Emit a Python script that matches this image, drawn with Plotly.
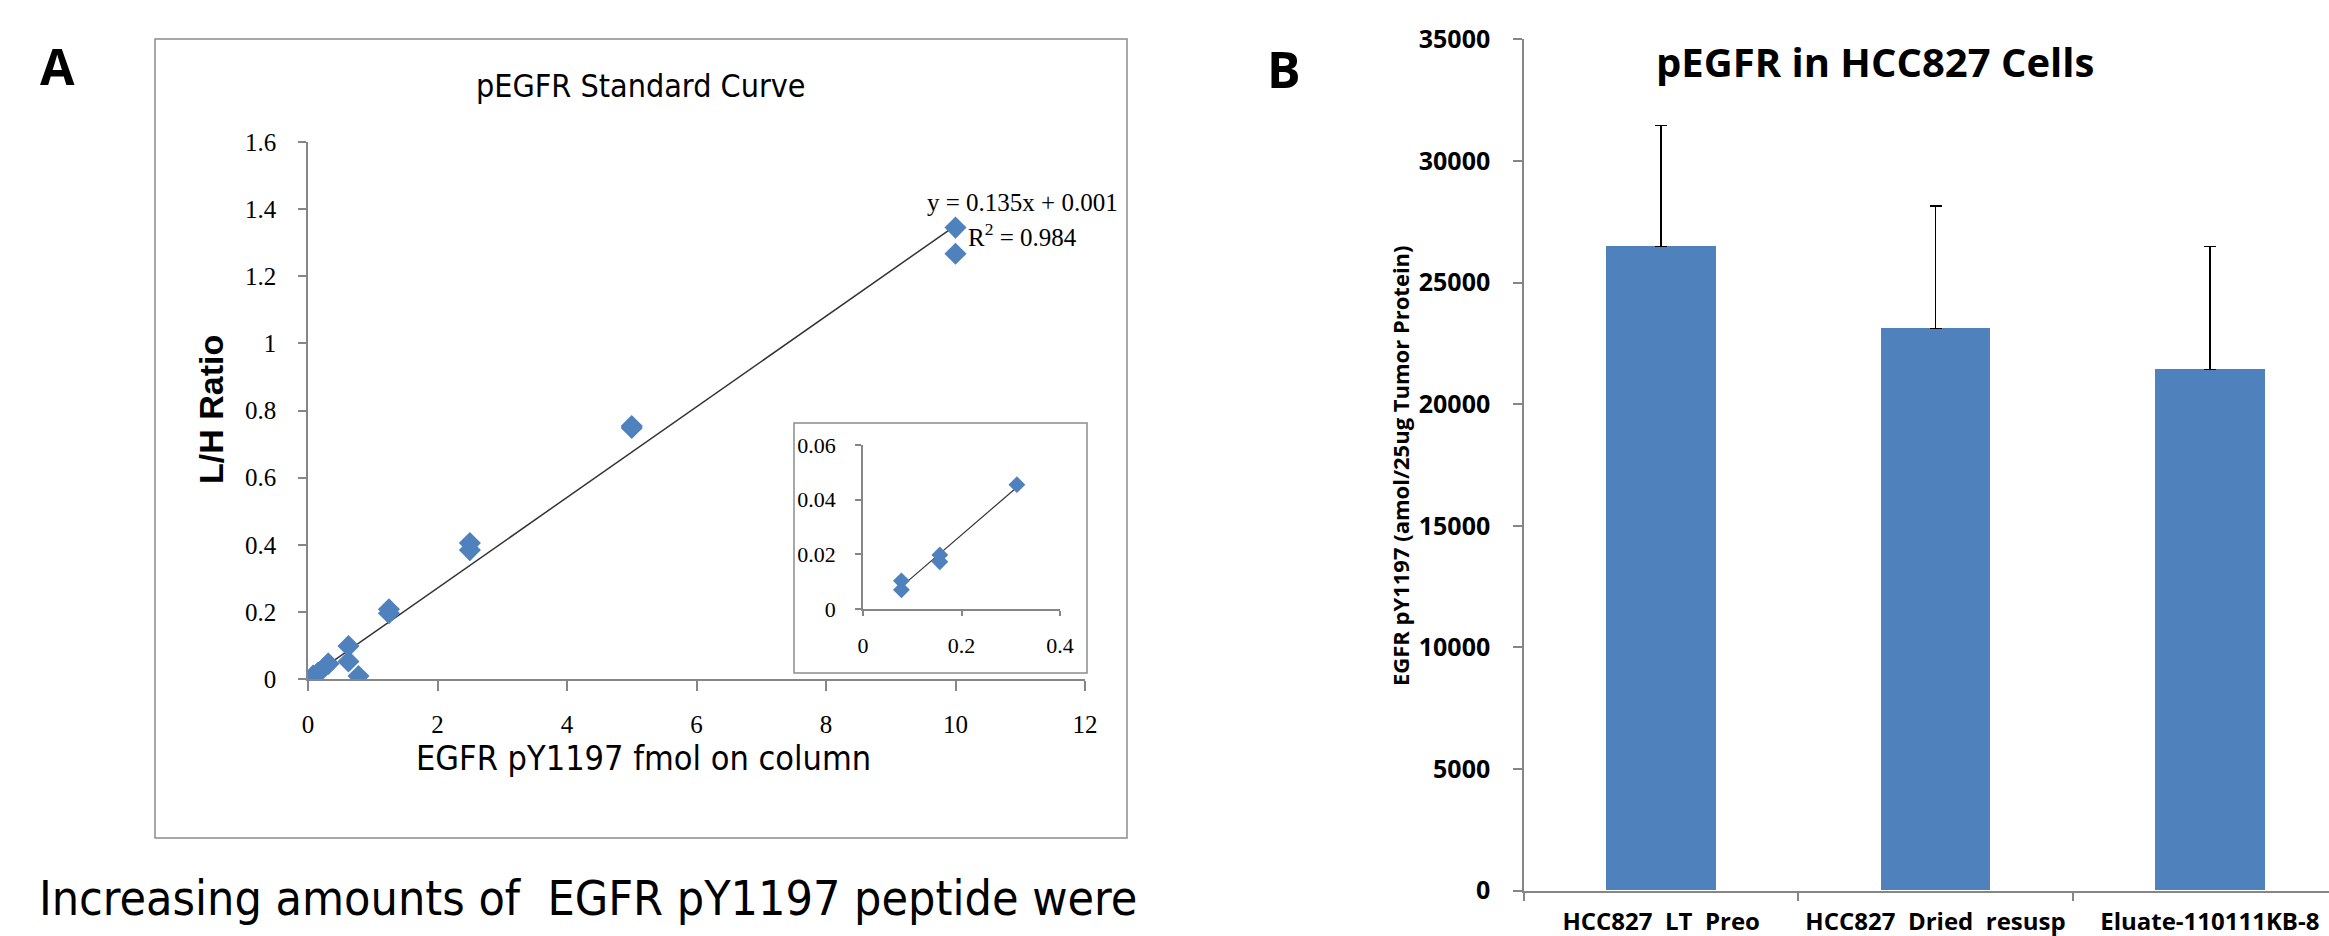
import plotly.graph_objects as go

W, H = 2329, 936

# ---------------- data ----------------
# Panel A: standard curve (fmol on column vs L/H ratio)
std_x = [0.078, 0.078, 0.156, 0.156, 0.3125, 0.3125, 0.625, 0.625, 0.78,
         1.25, 1.25, 2.5, 2.5, 5, 5, 10, 10]
std_y = [0.007, 0.010, 0.017, 0.019, 0.045, 0.046, 0.098, 0.052, 0.009,
         0.208, 0.196, 0.405, 0.384, 0.754, 0.748, 1.345, 1.267]
fit_slope = 0.135
fit_intercept = 0.001

# inset (low range)
inset_x = [0.078, 0.078, 0.156, 0.156, 0.3125]
inset_y = [0.0103, 0.007, 0.0198, 0.0173, 0.0455]
inset_slope = 0.155
inset_intercept = -0.0039

a_xticks = [0, 2, 4, 6, 8, 10, 12]
a_yticks = [0, 0.2, 0.4, 0.6, 0.8, 1.0, 1.2, 1.4, 1.6]
a_yticktext = ["0", "0.2", "0.4", "0.6", "0.8", "1", "1.2", "1.4", "1.6"]
in_xticks = [0, 0.2, 0.4]
in_yticks = [0, 0.02, 0.04, 0.06]
in_yticktext = ["0", "0.02", "0.04", "0.06"]

# Panel B: bar chart
categories = ["HCC827\u00a0\u00a0LT\u00a0\u00a0Preo",
              "HCC827\u00a0\u00a0Dried\u00a0\u00a0resusp",
              "Eluate-110111KB-8"]
values = [26480, 23120, 21420]
errors = [4980, 5030, 5060]
b_yticks = [0, 5000, 10000, 15000, 20000, 25000, 30000, 35000]
b_yticktext = ["<b>%d</b>" % v for v in b_yticks]
b_xticktext = ["<b>%s</b>" % c for c in categories]

# ---------------- style helpers ----------------
BLUE = "#4F81BD"
AXIS = "#868686"
NARROW = "Liberation Sans Narrow, Arial Narrow, DejaVu Sans Condensed, sans-serif"
SERIF = "Liberation Serif, Times New Roman, serif"
SANSB = "Open Sans, Liberation Sans, Arial, sans-serif"


def px(x):
    return x / W


def py(y):
    return 1 - y / H


fig = go.Figure()

# main standard curve
fit_xs = [min(std_x), max(std_x)]
fig.add_trace(go.Scatter(x=fit_xs, y=[fit_slope * v + fit_intercept for v in fit_xs],
                         mode="lines", line=dict(color="#333333", width=1.5),
                         xaxis="x", yaxis="y", showlegend=False, hoverinfo="skip"))
fig.add_trace(go.Scatter(x=std_x, y=std_y, mode="markers",
                         marker=dict(symbol="diamond", size=17, color=BLUE),
                         xaxis="x", yaxis="y", showlegend=False))

# inset
in_fit_xs = [min(inset_x), max(inset_x)]
fig.add_trace(go.Scatter(x=in_fit_xs, y=[inset_slope * v + inset_intercept for v in in_fit_xs],
                         mode="lines", line=dict(color="#333333", width=1.2),
                         xaxis="x2", yaxis="y2", showlegend=False, hoverinfo="skip"))
fig.add_trace(go.Scatter(x=inset_x, y=inset_y, mode="markers",
                         marker=dict(symbol="diamond", size=13, color=BLUE),
                         xaxis="x2", yaxis="y2", showlegend=False))

# bars
fig.add_trace(go.Bar(x=categories, y=values, width=0.4, marker=dict(color=BLUE, line=dict(width=0)),
                     error_y=dict(type="data", symmetric=False, array=errors,
                                  arrayminus=[0] * len(errors), color="black",
                                  thickness=1.5, width=6),
                     xaxis="x3", yaxis="y3", showlegend=False))

axis_common = dict(showline=True, linecolor=AXIS, linewidth=1.5, ticks="outside",
                   tickcolor=AXIS, tickwidth=1.5, showgrid=False, zeroline=False,
                   automargin=False)

fig.update_layout(
    width=W, height=H, autosize=False,
    margin=dict(l=0, r=0, t=0, b=0, pad=0),
    paper_bgcolor="white", plot_bgcolor="white",
    bargap=0,
    xaxis=dict(domain=[px(308), px(1085)], range=[0, 12], anchor="y",
               tickvals=a_xticks, ticklen=10,
               tickfont=dict(family=SERIF, size=25, color="black"),
               ticklabelstandoff=12, **axis_common),
    yaxis=dict(domain=[py(679), py(142)], range=[0, 1.6], anchor="x",
               tickvals=a_yticks, ticktext=a_yticktext, ticklen=8,
               tickfont=dict(family=SERIF, size=25, color="black"),
               ticklabelstandoff=17, **axis_common),
    xaxis2=dict(domain=[px(863), px(1060)], range=[0, 0.4], anchor="y2",
                tickvals=in_xticks, ticklen=5,
                tickfont=dict(family=SERIF, size=22, color="black"),
                ticklabelstandoff=11, **axis_common),
    yaxis2=dict(domain=[py(609), py(445)], range=[0, 0.06], anchor="x2",
                tickvals=in_yticks, ticktext=in_yticktext, ticklen=6,
                tickfont=dict(family=SERIF, size=22, color="black"),
                ticklabelstandoff=15, **axis_common),
    xaxis3=dict(domain=[px(1524), 1.0], range=[-0.5, 2.4344], anchor="y3",
                type="category", tickson="boundaries", ticklen=9,
                tickvals=categories, ticktext=b_xticktext,
                tickfont=dict(family=SANSB, size=24, color="black"),
                ticklabelstandoff=9, **axis_common),
    yaxis3=dict(domain=[py(890.7), py(39.3)], range=[0, 35000], anchor="x3",
                tickvals=b_yticks, ticktext=b_yticktext, ticklen=9,
                tickfont=dict(family=SANSB, size=25, color="black"),
                ticklabelstandoff=18, **axis_common),
)

shapes = [
    dict(type="rect", xref="paper", yref="paper", x0=px(155), x1=px(1127), y0=py(838), y1=py(39),
         line=dict(color="#8c8c8c", width=1.5), layer="below"),
    dict(type="rect", xref="paper", yref="paper", x0=px(794), x1=px(1087), y0=py(673), y1=py(423),
         line=dict(color="#8c8c8c", width=1.5), layer="below"),
]
fig.update_layout(shapes=shapes)

ann = []


def add_text(text, x, y, family, size, bold=False, angle=0, xanchor="center", color="black"):
    if bold:
        text = "<b>" + text + "</b>"
    ann.append(dict(text=text, x=px(x), y=py(y), xref="paper", yref="paper",
                    xanchor=xanchor, yanchor="middle", showarrow=False, textangle=angle,
                    font=dict(family=family, size=size, color=color)))


add_text("A", 58, 66, SANSB, 50, bold=True)
add_text("B", 1284, 69, SANSB, 50, bold=True)
add_text("pEGFR Standard Curve", 640, 86, NARROW, 32)
add_text("EGFR pY1197 fmol on column", 643, 758, NARROW, 34)
add_text("L/H Ratio", 211, 410, "Liberation Sans, Arial, sans-serif", 34, bold=True, angle=-90)
add_text("y = 0.135x + 0.001", 1022, 202, SERIF, 25)
add_text("R<sup>2</sup> = 0.984", 1022, 235, SERIF, 25)
add_text("Increasing amounts of  EGFR pY1197 peptide were".replace("  ", "\u00a0 "),
         37, 898, NARROW, 48, xanchor="left")
add_text("pEGFR in HCC827 Cells", 1875, 62, SANSB, 40, bold=True)
add_text("EGFR pY1197 (amol/25ug Tumor Protein)", 1400, 466, SANSB, 22, bold=True, angle=-90)
fig.update_layout(annotations=ann)

fig.write_html("out.html", config={"displayModeBar": False},
               post_script="document.body.style.margin='0';document.body.style.overflow='hidden';")
